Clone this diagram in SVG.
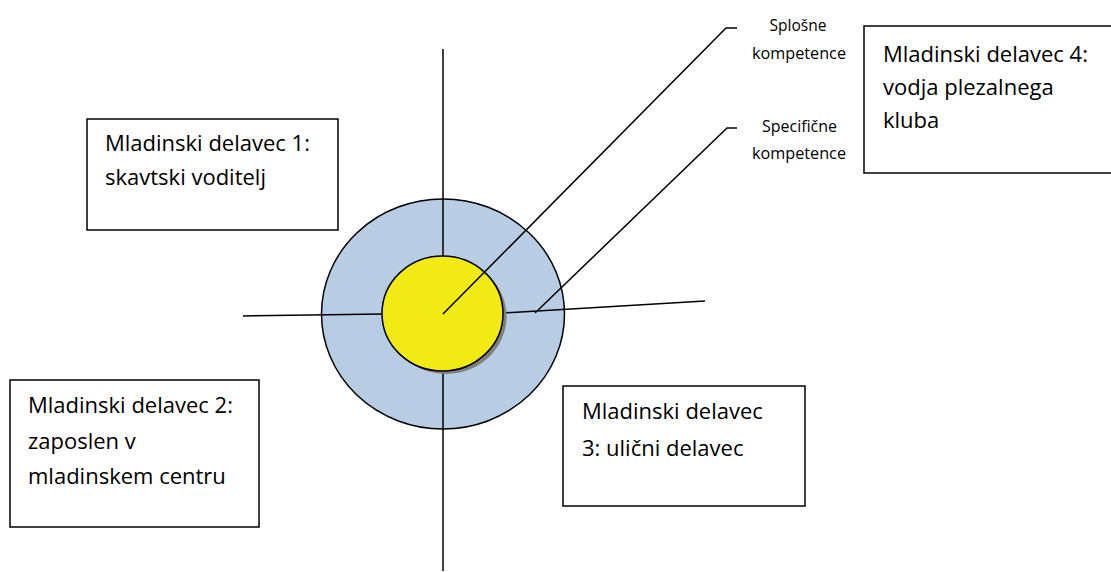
<svg xmlns="http://www.w3.org/2000/svg" width="1111" height="572" viewBox="0 0 1111 572">
<style>
.box{fill:#fff;stroke:#000;stroke-width:1.5}
.t{font-family:"Open Sans","Liberation Sans",sans-serif;font-size:22px;fill:#000}
.lbl{font-family:"Open Sans","Liberation Sans",sans-serif;font-size:17px;fill:#000;text-anchor:middle}
.ln{fill:none;stroke:#000;stroke-width:1.5}
</style>
<rect width="1111" height="572" fill="#fff"/>
<g id="circle-outer">
<ellipse cx="443" cy="314" rx="121.5" ry="115" fill="#b8cce4" stroke="#000" stroke-width="1.5"/>
</g>
<g id="connectors">
<line class="ln" x1="443" y1="49" x2="443" y2="256"/>
<line class="ln" x1="443" y1="371" x2="443" y2="571"/>
<line class="ln" x1="243" y1="316" x2="383" y2="314"/>
<line class="ln" x1="502" y1="313" x2="705" y2="301"/>
</g>
<g id="circle-inner">
<ellipse cx="446" cy="316.5" rx="60.5" ry="57.5" fill="#7f7f7f"/>
<ellipse cx="442.5" cy="313.5" rx="60.5" ry="57.5" fill="#f2ea14" stroke="#000" stroke-width="1.5"/>
</g>
<g id="leaders">
<polyline class="ln" points="443,314 726,28 737,28"/>
<polyline class="ln" points="535,313 727,128 737,128"/>
</g>
<g id="label-splosne">
<text class="lbl" x="798" y="31" textLength="57" lengthAdjust="spacingAndGlyphs">Splošne</text>
<text class="lbl" x="799" y="59" textLength="94" lengthAdjust="spacingAndGlyphs">kompetence</text>
</g>
<g id="label-specificne">
<text class="lbl" x="799.5" y="132" textLength="75" lengthAdjust="spacingAndGlyphs">Specifične</text>
<text class="lbl" x="799" y="159" textLength="94" lengthAdjust="spacingAndGlyphs">kompetence</text>
</g>
<g id="box1">
<rect class="box" x="87" y="119" width="251" height="111"/>
<text class="t" x="105" y="151">Mladinski delavec 1:</text>
<text class="t" x="105" y="185">skavtski voditelj</text>
</g>
<g id="box2">
<rect class="box" x="10" y="380" width="249" height="147"/>
<text class="t" x="28" y="413">Mladinski delavec 2:</text>
<text class="t" x="28" y="449">zaposlen v</text>
<text class="t" x="28" y="484">mladinskem centru</text>
</g>
<g id="box3">
<rect class="box" x="563" y="386" width="242" height="120"/>
<text class="t" x="582" y="419">Mladinski delavec</text>
<text class="t" x="582" y="456">3: ulični delavec</text>
</g>
<g id="box4">
<rect class="box" x="864" y="26" width="260" height="147"/>
<text class="t" x="883" y="62">Mladinski delavec 4:</text>
<text class="t" x="883" y="95">vodja plezalnega</text>
<text class="t" x="883" y="128">kluba</text>
</g>
</svg>
